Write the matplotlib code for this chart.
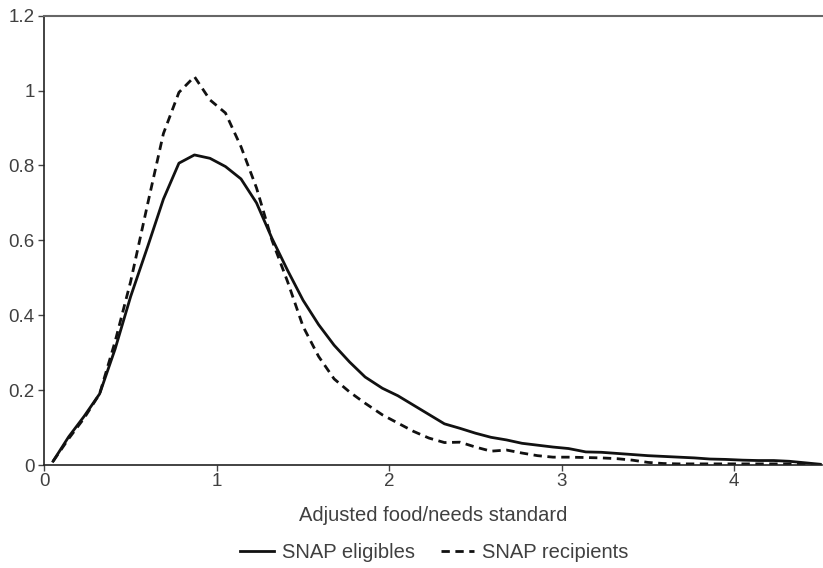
import matplotlib
matplotlib.use('Agg')
import matplotlib.pyplot as plt

# Density of adjusted food/needs standard, eligibles vs recipients
ratio = [0.05, 0.14, 0.23, 0.32, 0.41, 0.50, 0.60, 0.69, 0.78, 0.87,
         0.96, 1.05, 1.14, 1.23, 1.32, 1.41, 1.50, 1.59, 1.68, 1.77,
         1.86, 1.96, 2.05, 2.14, 2.23, 2.32, 2.41, 2.50, 2.59, 2.68,
         2.77, 2.86, 2.95, 3.04, 3.14, 3.23, 3.32, 3.41, 3.50, 3.59,
         3.68, 3.77, 3.86, 3.95, 4.05, 4.14, 4.23, 4.32, 4.41, 4.50]

eligibles = [0.010, 0.075, 0.130, 0.190, 0.310, 0.450, 0.585, 0.710, 0.806, 0.828,
             0.819, 0.797, 0.764, 0.700, 0.605, 0.520, 0.440, 0.375, 0.320, 0.275,
             0.235, 0.205, 0.185, 0.160, 0.135, 0.110, 0.098, 0.085, 0.074, 0.067,
             0.058, 0.053, 0.048, 0.044, 0.035, 0.034, 0.031, 0.028, 0.025, 0.023,
             0.021, 0.019, 0.016, 0.015, 0.013, 0.012, 0.012, 0.010, 0.006, 0.002]

recipients = [0.010, 0.070, 0.125, 0.190, 0.330, 0.490, 0.700, 0.885, 0.995, 1.037,
              0.975, 0.940, 0.850, 0.740, 0.600, 0.490, 0.370, 0.290, 0.230, 0.195,
              0.165, 0.134, 0.112, 0.090, 0.072, 0.060, 0.061, 0.048, 0.037, 0.040,
              0.032, 0.025, 0.021, 0.021, 0.020, 0.019, 0.017, 0.013, 0.007, 0.004,
              0.003, 0.003, 0.003, 0.003, 0.003, 0.003, 0.003, 0.003, 0.002, 0.000]

txt = '#404040'
plt.rcParams['font.family'] = ['Liberation Sans', 'DejaVu Sans']

fig = plt.figure(figsize=(8.23, 5.68), dpi=100)
ax = fig.add_axes([0.054, 0.1813, 0.9448, 0.7912])

ax.plot(ratio, eligibles, color='#111111', lw=2.0, label='SNAP eligibles')
ax.plot(ratio, recipients, color='#111111', lw=2.0, dashes=(3, 2),
        label='SNAP recipients')

ax.set_xlim(0, 4.51)
ax.set_ylim(0, 1.2)
ax.set_xticks([0, 1, 2, 3, 4])
ax.set_yticks([0, 0.2, 0.4, 0.6, 0.8, 1.0, 1.2])
ax.set_yticklabels(['0', '0.2', '0.4', '0.6', '0.8', '1', '1.2'])

ax.spines['right'].set_visible(False)
ax.spines['top'].set_color('#666666')
ax.spines['top'].set_linewidth(1.5)
ax.spines['left'].set_color('#222222')
ax.spines['bottom'].set_color('#222222')
ax.spines['left'].set_linewidth(1.2)
ax.spines['bottom'].set_linewidth(1.2)

ax.tick_params(axis='both', direction='out', length=4, width=1,
               color='#444444', labelsize=13.5, labelcolor=txt)
ax.tick_params(axis='y', pad=3)
ax.tick_params(axis='x', pad=2)

ax.set_xlabel('Adjusted food/needs standard', fontsize=14.5, color=txt, labelpad=11)

handles, labels = ax.get_legend_handles_labels()
fig.legend(handles, labels, loc='center', bbox_to_anchor=(0.528, 0.028),
           ncol=2, frameon=False, fontsize=14.5, handlelength=1.65,
           handletextpad=0.4, columnspacing=1.3, labelcolor=txt)

fig.savefig('out.png', dpi=100)
plt.close(fig)
